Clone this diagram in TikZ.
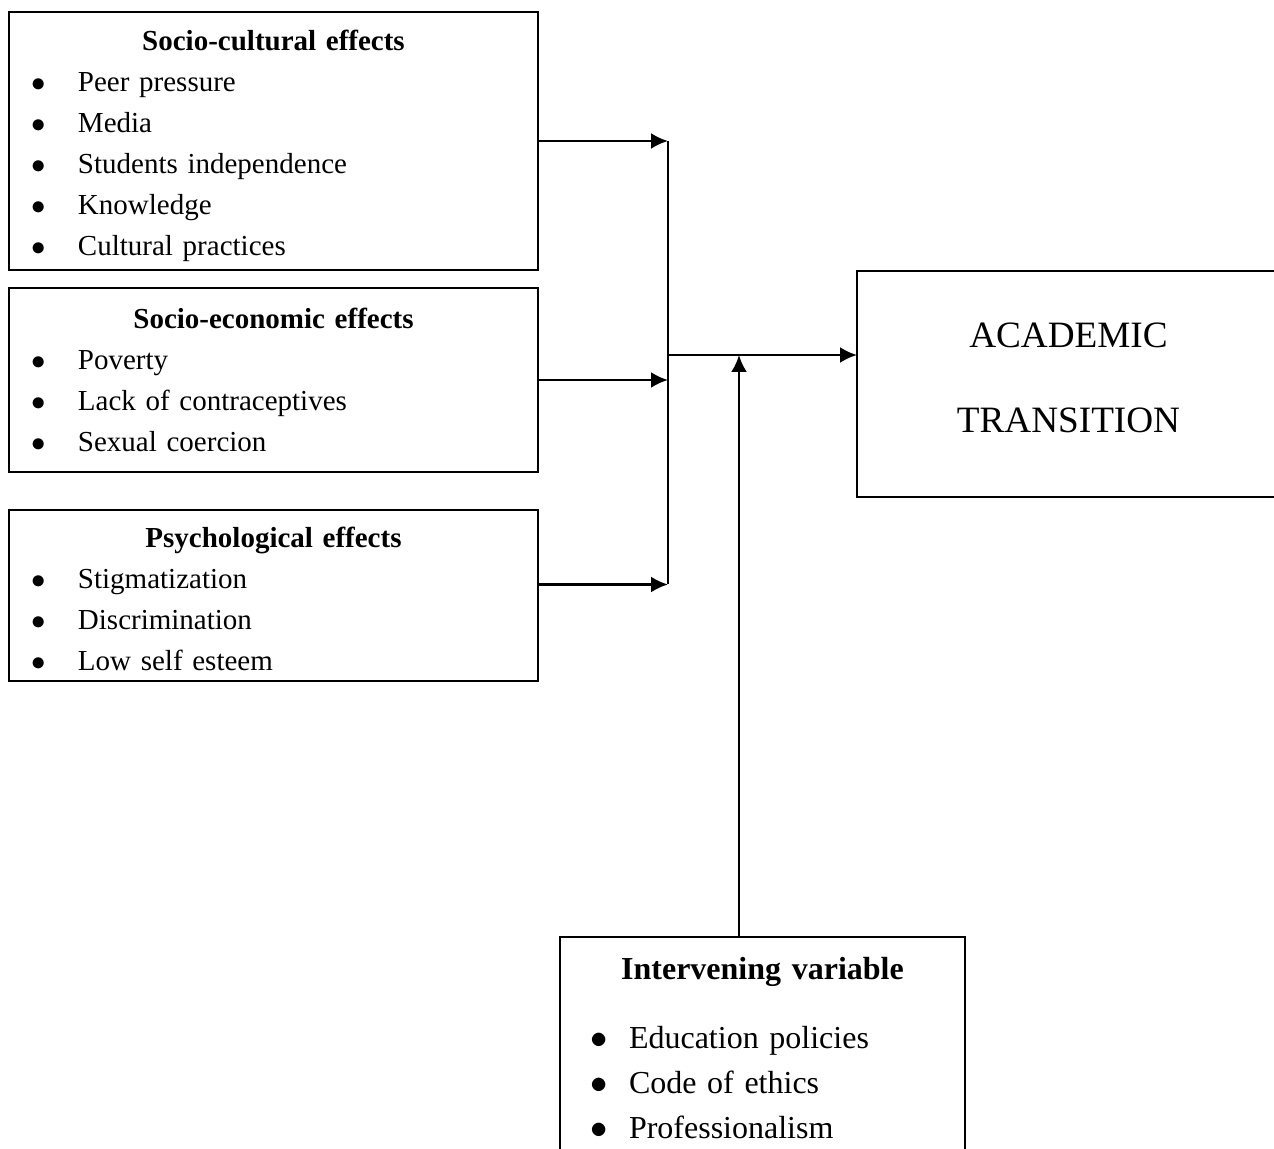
\documentclass[tikz,border=0pt]{standalone}
\usepackage{fontspec}
\setmainfont{Liberation Serif}
\usepackage{tikz}
\usetikzlibrary{arrows.meta,positioning}
\usetikzlibrary{calc}
\setlength{\parindent}{0pt}
\newcommand{\itm}{\hspace*{11.3pt}\makebox[23.2pt][l]{$\bullet$}}
\newcommand{\itmi}{\hspace*{15pt}\makebox[19.5pt][l]{$\bullet$}}

\begin{document}
\begin{tikzpicture}[
  x=0.5pt, y=-0.5pt,
  node distance=9pt,
  effect/.style={draw, line width=1pt, outer sep=0pt, inner xsep=0pt, text width=264.5pt, align=left, font=\fontsize{14.5}{20.5}\selectfont},
  outcome/.style={draw, line width=1pt, outer sep=0pt, inner xsep=0pt, text width=211.5pt, minimum height=113pt, align=center, font=\fontsize{18.6}{42.5}\selectfont},
  moder/.style={draw, line width=1pt, outer sep=0pt, inner xsep=0pt, inner ysep=10pt, text width=202.5pt, align=left, font=\fontsize{16}{22.5}\selectfont},
  arr/.style={-{Latex[length=8.5pt,width=8pt]}, line width=1.3pt}
]
  \clip (0,0) rectangle (1274,1149);

  \node[effect, anchor=north west, minimum height=129pt] (cult) at (9,12) {\makebox[\hsize]{\rule{0pt}{15pt}\bfseries Socio-cultural effects}\\
    \itm Peer pressure\\ \itm Media\\ \itm Students independence\\ \itm Knowledge\\ \itm Cultural practices};
  \node[effect, below=of cult, minimum height=92pt] (econ) {\makebox[\hsize]{\bfseries Socio-economic effects}\\
    \itm Poverty\\ \itm Lack of contraceptives\\ \itm Sexual coercion};
  \node[effect, below=19pt of econ, minimum height=85.5pt] (psych) {\makebox[\hsize]{\rule{0pt}{14pt}\bfseries Psychological effects}\\
    \itm Stigmatization\\ \itm Discrimination\\ \itm Low self esteem};

  \node[outcome, anchor=north west] (trans) at (857,271) {ACADEMIC\\TRANSITION\rule[-6pt]{0pt}{1pt}};

  \node[moder, anchor=north west] (inter) at (560,937) {\makebox[\hsize]{\bfseries Intervening variable}\\[12pt]
    \itmi Education policies\\ \itmi Code of ethics\\ \itmi Professionalism};

  \coordinate (spine) at (668,355);
  \coordinate (meet) at (739,355);

  \draw[arr] (cult.east) -- (cult.east -| spine);
  \draw[arr] (econ.east) -- (econ.east -| spine);
  \draw[arr] ([yshift=5.5pt]psych.east) -- ([yshift=5.5pt]psych.east -| spine);
  \draw[line width=1pt] (cult.east -| spine) -- ([yshift=5.5pt]psych.east -| spine);

  \draw[arr] (spine) -- (spine -| trans.west);
  \draw[arr] (meet |- inter.north) -- (meet);
\end{tikzpicture}
\end{document}
